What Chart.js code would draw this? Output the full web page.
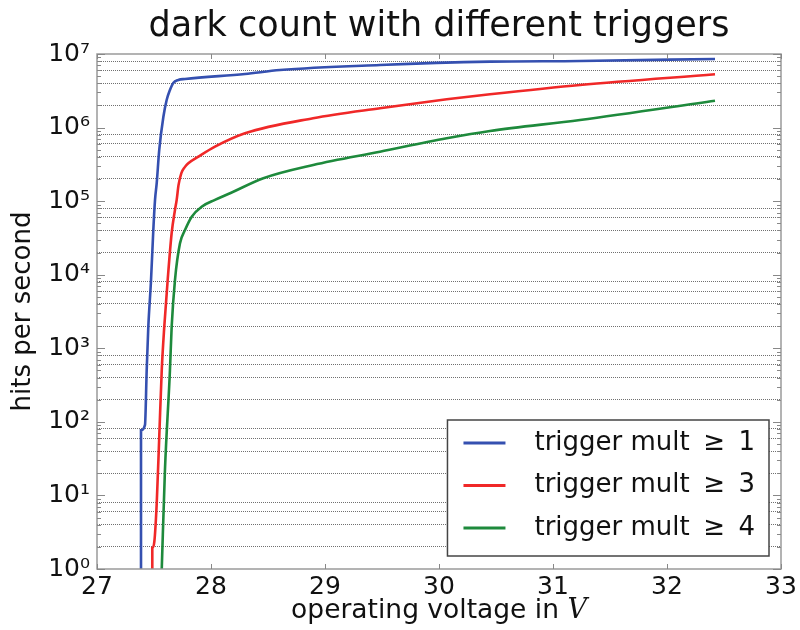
<!DOCTYPE html>
<html lang="en">
<head>
<meta charset="UTF-8">
<title>dark count with different triggers</title>
<style>
  body { margin: 0; background: #fff; }
  #chart { display: block; }
</style>
</head>
<body>
<canvas id="chart" width="800" height="630"></canvas>
<script src="https://cdn.jsdelivr.net/npm/chart.js"></script>
<script>
// values: operating voltage (V) and hits per second
const voltsMult1 = [27.386, 27.386, 27.421, 27.436, 27.450, 27.474, 27.494, 27.509, 27.524, 27.546, 27.582, 27.611, 27.640, 27.669, 27.713, 27.772, 28.298, 28.605, 29.482, 30.447, 31.237, 32.421];
const hitsMult1  = [1, 77, 91, 507, 1950, 8470, 40500, 1.04e5, 1.77e5, 4.96e5, 1.39e6, 2.37e6, 3.24e6, 4.04e6, 4.44e6, 4.58e6, 5.35e6, 6.06e6, 7.09e6, 7.87e6, 8.04e6, 8.56e6];

const voltsMult3 = [27.485, 27.485, 27.503, 27.524, 27.546, 27.568, 27.590, 27.620, 27.655, 27.684, 27.699, 27.715, 27.740, 27.770, 27.801, 27.889, 28.035, 28.298, 28.895, 29.482, 30.068, 30.447, 31.237, 32.421];
const hitsMult3  = [1, 1.93, 2.35, 7.9, 62, 507, 1950, 8470, 36900, 75900, 1.04e5, 1.65e5, 2.4e5, 2.9e5, 3.27e5, 4.02e5, 5.5e5, 8.36e5, 1.34e6, 1.83e6, 2.42e6, 2.83e6, 3.79e6, 5.3e6];

const voltsMult4 = [27.568, 27.596, 27.640, 27.655, 27.684, 27.728, 27.772, 27.831, 27.918, 28.035, 28.167, 28.459, 28.897, 29.482, 30.068, 30.447, 31.237, 32.421];
const hitsMult4  = [1, 22, 507, 1960, 8470, 26700, 40500, 61500, 84100, 1.04e5, 1.28e5, 2.05e5, 3.1e5, 4.7e5, 7.14e5, 8.98e5, 1.27e6, 2.32e6];

const seriesLabels = ['trigger mult \u2009\u2265\u2009 1', 'trigger mult \u2009\u2265\u2009 3', 'trigger mult \u2009\u2265\u2009 4'];
const seriesColors = ['#3550b0', '#f02828', '#1e8a3c'];

const chartTitle = 'dark count with different triggers';
const xMin = 27, xMax = 33;
const yMinExp = 0, yMaxExp = 7;

const FONT = 'DejaVu Sans';
Chart.defaults.font.family = FONT;
Chart.defaults.color = '#111';

function toPoints(xs, ys) {
  return xs.map((x, i) => ({ x: x, y: ys[i] }));
}

function mantissa(v) {
  const e = Math.floor(Math.log10(v) + 1e-9);
  return Math.round(v / Math.pow(10, e));
}

const sup = '\u2070\u00b9\u00b2\u00b3\u2074\u2075\u2076\u2077\u2078\u2079';

// title over the plot, frame, inward tick marks, legend and x title with italic V
const decorPlugin = {
  id: 'decor',
  afterDraw(chart) {
    const ctx = chart.ctx;
    const a = chart.chartArea;
    const xs = chart.scales.x, ys = chart.scales.y;
    const cx = (a.left + a.right) / 2;
    ctx.save();

    // title, centred on the plot area
    ctx.fillStyle = '#111';
    ctx.textAlign = 'center';
    ctx.textBaseline = 'middle';
    ctx.font = '35px "' + FONT + '"';
    ctx.fillText(chartTitle, cx, 27);

    // frame
    ctx.strokeStyle = '#9a9a9a';
    ctx.lineWidth = 1.5;
    ctx.strokeRect(a.left, a.top, a.right - a.left, a.bottom - a.top);

    // inward ticks
    ctx.strokeStyle = '#888';
    ctx.lineWidth = 1;
    ctx.beginPath();
    xs.ticks.forEach(t => {
      const px = Math.round(xs.getPixelForValue(t.value)) + 0.5;
      ctx.moveTo(px, a.bottom); ctx.lineTo(px, a.bottom - 5);
      ctx.moveTo(px, a.top); ctx.lineTo(px, a.top + 5);
    });
    ys.ticks.forEach(t => {
      const py = Math.round(ys.getPixelForValue(t.value)) + 0.5;
      const len = mantissa(t.value) === 1 ? 8 : 4;
      ctx.moveTo(a.left, py); ctx.lineTo(a.left + len, py);
      ctx.moveTo(a.right, py); ctx.lineTo(a.right - len, py);
    });
    ctx.stroke();

    // legend
    ctx.textAlign = 'left';
    ctx.font = '26px "' + FONT + '"';
    const textW = Math.max(...chart.data.datasets.map(d => ctx.measureText(d.label).width));
    const w = 101 + textW, h = 136;
    const right = a.right - 12, bottom = a.bottom - 13;
    const left = right - w, top = bottom - h;
    ctx.fillStyle = '#fff';
    ctx.fillRect(left, top, w, h);
    ctx.strokeStyle = '#444';
    ctx.lineWidth = 1.5;
    ctx.strokeRect(left, top, w, h);
    chart.data.datasets.forEach((d, i) => {
      const cy = top + 23 + i * 42.5;
      ctx.strokeStyle = d.borderColor;
      ctx.lineWidth = 3;
      ctx.beginPath();
      ctx.moveTo(left + 16, cy); ctx.lineTo(left + 58, cy);
      ctx.stroke();
      ctx.fillStyle = '#111';
      ctx.fillText(d.label, left + 87, cy);
    });

    // x axis title
    const part1 = 'operating voltage in ';
    ctx.font = '26.5px "' + FONT + '"';
    const w1 = ctx.measureText(part1).width;
    ctx.font = 'italic 27px "DejaVu Serif"';
    const w2 = ctx.measureText('V').width;
    const x0 = cx - (w1 + w2) / 2;
    const ty = 611;
    ctx.fillStyle = '#111';
    ctx.font = '26.5px "' + FONT + '"';
    ctx.fillText(part1, x0, ty);
    ctx.font = 'italic 27px "DejaVu Serif"';
    ctx.fillText('V', x0 + w1, ty);

    ctx.restore();
  }
};

new Chart(document.getElementById('chart'), {
  type: 'line',
  data: {
    datasets: [
      { label: seriesLabels[0], data: toPoints(voltsMult1, hitsMult1), borderColor: seriesColors[0] },
      { label: seriesLabels[1], data: toPoints(voltsMult3, hitsMult3), borderColor: seriesColors[1] },
      { label: seriesLabels[2], data: toPoints(voltsMult4, hitsMult4), borderColor: seriesColors[2] }
    ]
  },
  options: {
    responsive: false,
    animation: false,
    devicePixelRatio: 1,
    elements: {
      line: { borderWidth: 2.6, cubicInterpolationMode: 'monotone', fill: false },
      point: { radius: 0 }
    },
    layout: { padding: { left: 0, right: 19, top: 54, bottom: 0 } },
    plugins: {
      legend: { display: false },
      tooltip: { enabled: false },
      title: { display: false }
    },
    scales: {
      x: {
        type: 'linear',
        min: xMin,
        max: xMax,
        grid: { display: false, drawTicks: false },
        border: { display: false },
        ticks: { stepSize: 1, padding: 3, font: { size: 25 }, color: '#111' },
        afterFit: (s) => { s.height = 61; }
      },
      y: {
        type: 'logarithmic',
        min: Math.pow(10, yMinExp),
        max: Math.pow(10, yMaxExp),
        afterBuildTicks: (s) => {
          const t = [];
          for (let e = yMinExp; e < yMaxExp; e++) {
            for (let m = 1; m <= 9; m++) t.push({ value: m * Math.pow(10, e) });
          }
          t.push({ value: Math.pow(10, yMaxExp) });
          s.ticks = t;
        },
        grid: {
          drawTicks: false,
          lineWidth: 1,
          borderDash: [1, 1],
          color: (c) => (c.tick && [2, 4, 6, 8].includes(mantissa(c.tick.value))) ? '#707070' : 'rgba(0,0,0,0)'
        },
        border: { display: false, dash: [1, 1] },
        ticks: {
          autoSkip: false,
          padding: 7,
          font: { size: 25 },
          color: '#111',
          callback: (v) => mantissa(v) === 1 ? '10' + sup[Math.round(Math.log10(v))] : ''
        },
        title: {
          display: true,
          text: 'hits per second',
          font: { size: 26 },
          color: '#111',
          padding: { top: 8, bottom: 0 }
        },
        afterFit: (s) => { s.width = 97; }
      }
    }
  },
  plugins: [decorPlugin]
});
</script>
</body>
</html>
